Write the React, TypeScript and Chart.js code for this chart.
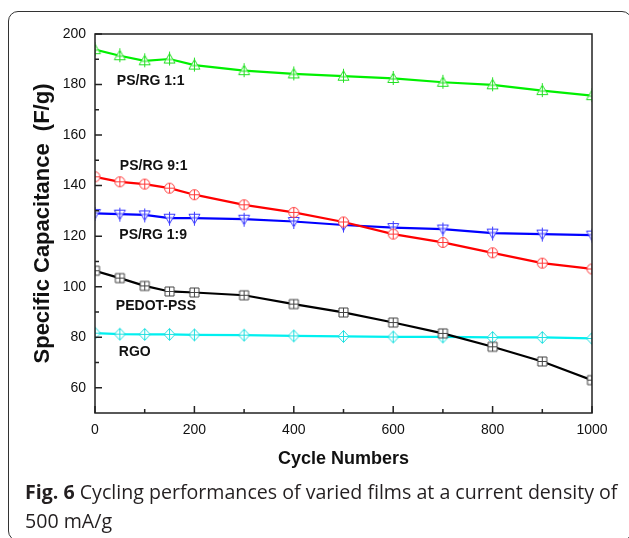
import React, { useEffect, useRef } from "react";
import { Chart, registerables } from "chart.js";

Chart.register(...registerables);

// ---------- data ----------
const cycles = [0, 50, 100, 150, 200, 300, 400, 500, 600, 700, 800, 900, 1000];
const psrg11 = [193.8, 191.4, 189.4, 190.1, 187.7, 185.5, 184.2, 183.3, 182.4, 180.9, 179.9, 177.6, 175.6];
const psrg91 = [143.5, 141.5, 140.6, 139.0, 136.4, 132.4, 129.4, 125.6, 120.8, 117.5, 113.4, 109.3, 107.0];
const psrg19 = [129.0, 128.7, 128.4, 127.1, 127.1, 126.7, 125.8, 124.4, 123.4, 122.8, 121.2, 120.8, 120.4];
const pedot = [106.3, 103.4, 100.3, 98.1, 97.7, 96.6, 93.1, 89.8, 85.8, 81.5, 76.2, 70.4, 63.0];
const rgo = [81.6, 81.2, 81.1, 81.1, 80.9, 80.8, 80.5, 80.3, 80.1, 80.1, 79.9, 79.9, 79.5];

const seriesNames = ["PS/RG 1:1", "PS/RG 9:1", "PS/RG 1:9", "PEDOT-PSS", "RGO"];

const xMajorTicks = [0, 200, 400, 600, 800, 1000];
const xMinorTicks = [100, 300, 500, 700, 900];
const yMajorTicks = [60, 80, 100, 120, 140, 160, 180, 200];
const yMinorTicks = [70, 90, 110, 130, 150, 170, 190];

// annotation anchors (data units)
const labelCycle = [44, 50, 49, 42, 48];
const labelCap = [181.5, 147.8, 120.5, 92.3, 74.2];

const xTitle = "Cycle Numbers";
const yTitle = "Specific Capacitance  (F/g)";

// ---------- markers ----------
function makeMarker(shape: string, color: string): HTMLCanvasElement {
  const s = 17;
  const c = document.createElement("canvas");
  c.width = s;
  c.height = s;
  const ctx = c.getContext("2d")!;
  const m = s / 2;
  ctx.lineWidth = 1;
  ctx.strokeStyle = color;
  ctx.fillStyle = "#ffffff";
  ctx.beginPath();
  let v0 = m - 5, v1 = m + 5, h0 = m - 5, h1 = m + 5, hy = m;
  if (shape === "circle") {
    ctx.arc(m, m, 5, 0, Math.PI * 2);
  } else if (shape === "square") {
    ctx.rect(m - 4.5, m - 4.5, 9, 9);
    v0 = m - 4.5; v1 = m + 4.5; h0 = m - 4.5; h1 = m + 4.5;
  } else if (shape === "triUp") {
    ctx.moveTo(m, m - 5.5);
    ctx.lineTo(m + 5.5, m + 4);
    ctx.lineTo(m - 5.5, m + 4);
    ctx.closePath();
    v0 = m - 7.5; v1 = m + 6.5; h0 = m - 3; h1 = m + 3; hy = m + 0.5;
  } else if (shape === "triDown") {
    ctx.moveTo(m - 5.5, m - 4);
    ctx.lineTo(m + 5.5, m - 4);
    ctx.lineTo(m, m + 5.5);
    ctx.closePath();
    v0 = m - 6.5; v1 = m + 7.5; h0 = m - 3; h1 = m + 3; hy = m - 0.5;
  } else if (shape === "diamond") {
    ctx.moveTo(m, m - 6);
    ctx.lineTo(m + 5.5, m);
    ctx.lineTo(m, m + 6);
    ctx.lineTo(m - 5.5, m);
    ctx.closePath();
    v0 = m - 6; v1 = m + 6; h0 = m - 5.5; h1 = m + 5.5;
  }
  ctx.fill();
  ctx.stroke();
  ctx.beginPath();
  ctx.moveTo(m, v0);
  ctx.lineTo(m, v1);
  ctx.moveTo(h0, hy);
  ctx.lineTo(h1, hy);
  ctx.stroke();
  return c;
}

const FONT = "'Liberation Sans', Arial, sans-serif";

const framePlugin = {
  id: "frameTicks",
  afterDraw(chart: any) {
    const { ctx, chartArea: a, scales } = chart;
    const xs = scales.x;
    const ys = scales.y;
    ctx.save();
    ctx.strokeStyle = "#222";
    ctx.lineWidth = 1.5;
    ctx.strokeRect(a.left, a.top, a.right - a.left, a.bottom - a.top);
    ctx.beginPath();
    for (const v of xMajorTicks) {
      const px = xs.getPixelForValue(v);
      ctx.moveTo(px, a.bottom);
      ctx.lineTo(px, a.bottom - 7);
    }
    for (const v of xMinorTicks) {
      const px = xs.getPixelForValue(v);
      ctx.moveTo(px, a.bottom);
      ctx.lineTo(px, a.bottom - 4);
    }
    for (const v of yMajorTicks) {
      const py = ys.getPixelForValue(v);
      ctx.moveTo(a.left, py);
      ctx.lineTo(a.left + 7, py);
    }
    for (const v of yMinorTicks) {
      const py = ys.getPixelForValue(v);
      ctx.moveTo(a.left, py);
      ctx.lineTo(a.left + 4, py);
    }
    ctx.stroke();

    ctx.fillStyle = "#111";
    ctx.font = `bold 14px ${FONT}`;
    ctx.textAlign = "left";
    ctx.textBaseline = "middle";
    seriesNames.forEach((name, i) => {
      ctx.fillText(name, xs.getPixelForValue(labelCycle[i]), ys.getPixelForValue(labelCap[i]));
    });
    ctx.restore();
  },
};

export default function App() {
  const ref = useRef<HTMLCanvasElement | null>(null);

  useEffect(() => {
    const styles = [
      { data: psrg11, color: "#00f000", mcolor: "#22e022", shape: "triUp" },
      { data: psrg91, color: "#ff0000", mcolor: "#ff3a3a", shape: "circle" },
      { data: psrg19, color: "#0000ff", mcolor: "#3a3aff", shape: "triDown" },
      { data: pedot, color: "#000000", mcolor: "#444444", shape: "square" },
      { data: rgo, color: "#00f0f0", mcolor: "#22e0e0", shape: "diamond" },
    ];
    const datasets = styles.map((s, i) => {
      const img = makeMarker(s.shape, s.mcolor);
      return {
        label: seriesNames[i],
        data: cycles.map((c, j) => ({ x: c, y: s.data[j] })),
        borderColor: s.color,
        backgroundColor: s.color,
        borderWidth: 2.2,
        pointStyle: img,
        pointRadius: 5,
        tension: 0,
        clip: 0,
      };
    });

    const chart = new Chart(ref.current!, {
      type: "line",
      data: { datasets },
      plugins: [framePlugin],
      options: {
        animation: false,
        responsive: false,
        maintainAspectRatio: false,
        layout: { padding: { left: 0, top: 34, right: 37, bottom: 0 } },
        plugins: { legend: { display: false }, tooltip: { enabled: false } },
        scales: {
          x: {
            type: "linear",
            min: 0,
            max: 1000,
            grid: { display: false, drawTicks: false },
            border: { display: false },
            afterBuildTicks: (scale: any) => {
              scale.ticks = xMajorTicks.map((v) => ({ value: v }));
            },
            afterFit: (scale: any) => {
              scale.height = 67;
              scale.paddingLeft = 0;
              scale.paddingRight = 0;
            },
            ticks: {
              padding: 9,
              color: "#111",
              font: { family: FONT, size: 14 },
              maxRotation: 0,
              callback: (v: any) => String(v),
            },
            title: {
              display: true,
              text: xTitle,
              color: "#111",
              font: { family: FONT, size: 18, weight: "bold" },
              padding: { top: 0, bottom: 10 },
            },
          },
          y: {
            type: "linear",
            min: 50,
            max: 200,
            grid: { display: false, drawTicks: false },
            border: { display: false },
            afterBuildTicks: (scale: any) => {
              scale.ticks = yMajorTicks.map((v) => ({ value: v }));
            },
            afterFit: (scale: any) => {
              scale.width = 95;
              scale.paddingTop = 0;
              scale.paddingBottom = 0;
            },
            ticks: {
              padding: 9,
              color: "#111",
              font: { family: FONT, size: 14 },
              callback: (v: any) => String(v),
            },
            title: {
              display: true,
              text: yTitle,
              color: "#111",
              font: { family: FONT, size: 22, weight: "bold" },
              padding: { top: 30, bottom: 0 },
            },
          },
        },
      },
    } as any);
    return () => chart.destroy();
  }, []);

  return (
    <div style={{ position: "fixed", left: 0, top: 0, width: 629, height: 538, background: "#fff", overflow: "hidden" }}>
      <div
        style={{
          position: "absolute",
          left: 8,
          top: 11,
          width: 624,
          height: 530,
          boxSizing: "border-box",
          border: "1.5px solid #333",
          borderRadius: 10,
        }}
      />
      <canvas ref={ref} width={629} height={480} style={{ position: "absolute", left: 0, top: 0, width: 629, height: 480 }} />
      <div
        style={{
          position: "absolute",
          left: 25,
          top: 477,
          fontFamily: "'Open Sans', sans-serif",
          fontSize: 19.6,
          lineHeight: "29px",
          color: "#231f20",
          whiteSpace: "nowrap",
        }}
      >
        <b>Fig. 6</b> Cycling performances of varied films at a current density of
        <br />
        500 mA/g
      </div>
    </div>
  );
}
